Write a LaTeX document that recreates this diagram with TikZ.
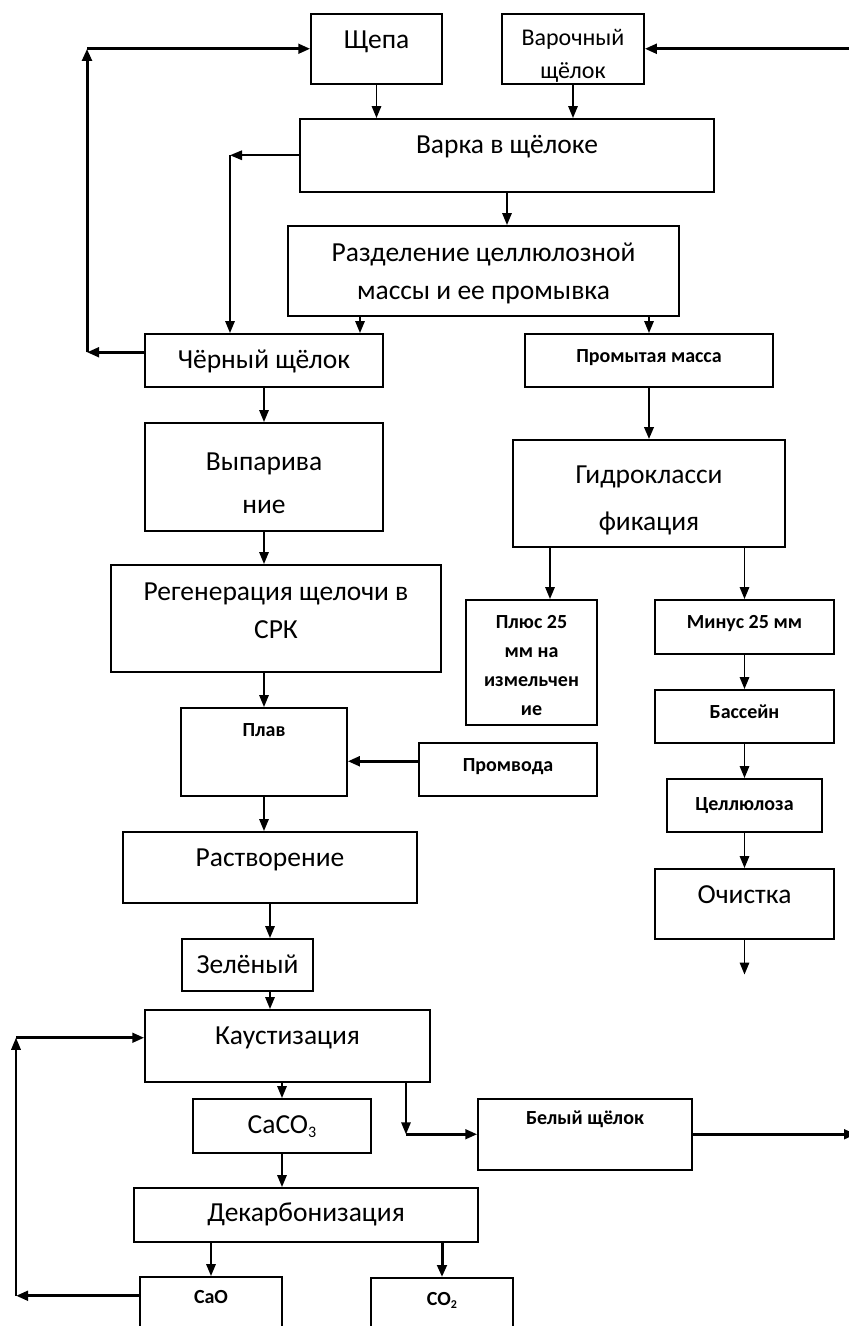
\documentclass[tikz,border=0pt]{standalone}
\usepackage{fontspec}
\setmainfont{Carlito}
\usetikzlibrary{positioning,arrows.meta}

\begin{document}
\begin{tikzpicture}[x=1pt,y=-1pt,
        box/.style={draw,line width=1.5pt,inner sep=0pt,anchor=north,align=flush center,
            font=\fontsize{27.5}{38}\selectfont,text height=35pt},
        sbox/.style={box,font=\bfseries\fontsize{20}{29}\selectfont,text height=28.5pt},
        flow/.style={line width=1.6pt,-{Triangle[length=12pt,width=9.5pt]}},
        bold flow/.style={flow,line width=3pt}]
            \useasboundingbox (0,0) rectangle (849,1326);
            \clip (0,0) rectangle (849,1326);

            \node [box,text width=131pt,text depth=35pt] (1) at (376.5,13) {Щепа};
            \node [box,text width=142pt,font=\fontsize{24}{33}\selectfont,text height=31.5pt,text depth=38.5pt] (2) at (573,13) {Варочный\\щёлок};
            \node [box,text width=414pt,text depth=38pt] (3) at (507,118) {Варка в щёлоке};
            \node [box,text width=391pt,text height=36pt,text depth=54pt] (4) at (483.5,225) {Разделение целлюлозной\\массы и ее промывка};
            \node [box,text width=238pt,text depth=18pt] (5) at (264,333) {Чёрный щёлок};
            \node [sbox,text width=248pt,text depth=24.5pt] (6) at (649,333) {Промытая масса};
            \node [box,text width=238pt,text height=48pt,text depth=60pt] (7) at (264,422) {Выпарива\\[5pt]ние};
            \node [box,text width=272pt,text height=44pt,text depth=63pt] (8) at (649,439) {Гидрокласси\\[9pt]фикация};
            \node [box,text width=330pt,text height=36pt,text depth=71pt] (9) at (276,564) {Регенерация щелочи в\\СРК};
            \node [sbox,text width=131pt,text depth=96.5pt] (10) at (531.5,599) {Плюс 25\\мм на\\измельчен\\ие};
            \node [sbox,text width=179pt,text depth=25.5pt] (11) at (744.5,599) {Минус 25 мм};
            \node [sbox,text width=179pt,text depth=24.5pt] (12) at (744.5,689) {Бассейн};
            \node [sbox,text width=166pt,text depth=59.5pt] (13) at (264,707) {Плав};
            \node [sbox,text width=178pt,text depth=24.5pt] (14) at (508,742) {Промвода};
            \node [sbox,text width=155pt,text height=32pt,text depth=21pt] (15) at (744.5,778) {Целлюлоза};
            \node [box,text width=294pt,text depth=36pt] (16) at (270,831) {Растворение};
            \node [box,text width=179pt,text depth=35pt] (17) at (744.5,868) {Очистка};
            \node [box,text width=131pt,text depth=17pt] (18) at (247.5,938) {Зелёный};
            \node [box,text width=285pt,text depth=37pt] (19) at (287.5,1009) {Каустизация};
            \node [box,text width=178pt,text depth=19pt] (20) at (282,1098) {CaCO\raisebox{-4pt}{\fontsize{16}{16}\selectfont 3}};
            \node [sbox,text width=214pt,text height=26pt,text depth=45pt] (21) at (585,1098) {Белый щёлок};
            \node [box,text width=344pt,text height=34pt,text depth=20pt] (22) at (306,1187) {Декарбонизация};
            \node [sbox,text width=142pt,text height=27pt,text depth=43pt] (23) at (211,1276) {CaO};
            \node [sbox,text width=142pt,text height=28pt,text depth=42pt] (24) at (442,1277) {CO\raisebox{-3pt}{\fontsize{12}{12}\selectfont 2}};

            \coordinate (r) at (856,0);
            \coordinate (l1) at (87,0);
            \coordinate (l2) at (230,0);
            \coordinate (l3) at (16,0);
            \coordinate (e1) at ([xshift=96pt]5.north);
            \coordinate (p1) at ([xshift=18.5pt]10.north);
            \coordinate (s1) at ([xshift=118.5pt]19.south);
            \coordinate (c1) at ([yshift=8pt]5.west);
            \coordinate (c2) at ([yshift=16pt]23.west);
            \coordinate (c3) at ([yshift=8pt]19.west);
            \coordinate (w1) at ([yshift=8pt]14.west);
            \coordinate (o1) at ([yshift=-35pt]17.south);

            \draw [flow] (1.south) -- (1.south |- 3.north);
            \draw [flow] (2.south) -- (2.south |- 3.north);
            \draw [bold flow] (r |- 2.east) -- (2.east);
            \draw [flow] (3.south) -- (3.south |- 4.north);
            \draw [flow] (3.west) -- (3.west -| l2);
            \draw [flow] (3.west -| l2) -- (l2 |- 5.north);
            \draw [flow] (e1 |- 4.south) -- (e1);
            \draw [flow] (6.north |- 4.south) -- (6.north);
            \draw [bold flow] (c1) -- (c1 -| l1);
            \draw [bold flow] (c1 -| l1) -- (l1 |- 1.west);
            \draw [bold flow] (l1 |- 1.west) -- (1.west);
            \draw [flow] (5.south) -- (5.south |- 7.north);
            \draw [flow,line width=2.3pt] (6.south) -- (6.south |- 8.north);
            \draw [flow] (7.south) -- (7.south |- 9.north);
            \draw [flow] (p1 |- 8.south) -- (p1);
            \draw [flow] (11.north |- 8.south) -- (11.north);
            \draw [flow] (13.north |- 9.south) -- (13.north);
            \draw [bold flow] (w1) -- (w1 -| 13.east);
            \draw [flow] (11.south) -- (11.south |- 12.north);
            \draw [flow] (12.south) -- (12.south |- 15.north);
            \draw [flow] (15.south) -- (15.south |- 17.north);
            \draw [flow] (17.south) -- (o1);
            \draw [flow] (13.south) -- (13.south |- 16.north);
            \draw [flow] (16.south) -- (16.south |- 18.north);
            \draw [flow] (16.south |- 18.south) -- (16.south |- 19.north);
            \draw [flow] (20.north |- 19.south) -- (20.north);
            \draw [flow] (20.south) -- (20.south |- 22.north);
            \draw [flow] (s1) -- (s1 |- 21.west);
            \draw [bold flow] (s1 |- 21.west) -- (21.west);
            \draw [bold flow] (21.east) -- (21.east -| r);
            \draw [flow] (23.north |- 22.south) -- (23.north);
            \draw [bold flow] (24.north |- 22.south) -- (24.north);
            \draw [bold flow] (c2) -- (c2 -| l3);
            \draw [flow] (c2 -| l3) -- (l3 |- c3);
            \draw [bold flow] (l3 |- c3) -- (c3);
        \end{tikzpicture}
\end{document}
